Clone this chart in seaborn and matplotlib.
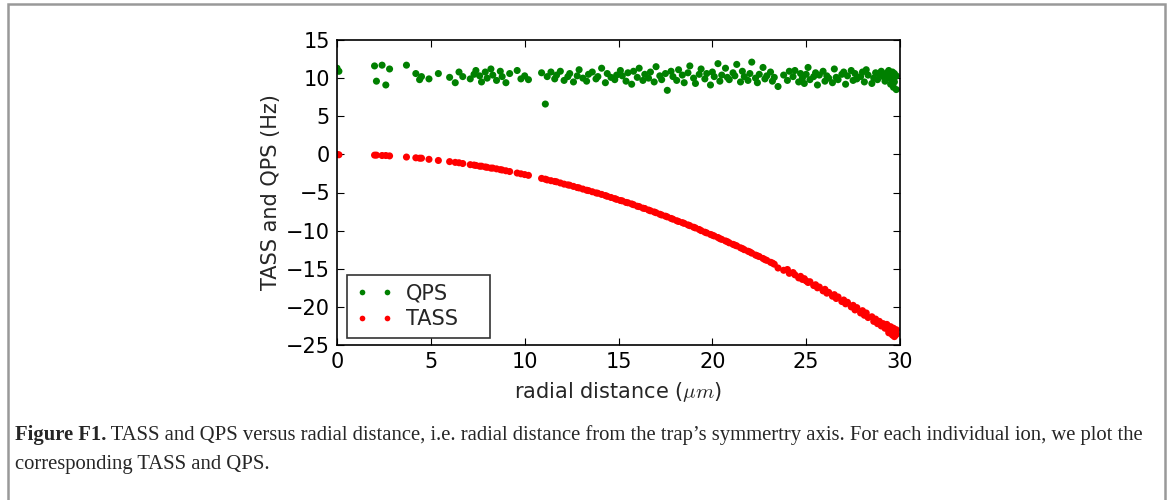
import matplotlib

matplotlib.use("Agg")
import matplotlib.pyplot as plt
import pandas as pd
import seaborn as sns
from matplotlib.patches import Rectangle

# radial position of each ion (um)
RADIAL = [
    0.0, 0.1, 2.0, 2.1, 2.4, 2.6, 2.8, 3.7, 4.2, 4.4,
    4.5, 4.9, 5.4, 6.0, 6.3, 6.5, 6.7, 7.1, 7.3, 7.4,
    7.6, 7.7, 7.9, 8.0, 8.2, 8.3, 8.5, 8.7, 8.8, 9.0,
    9.2, 9.6, 9.8, 10.0, 10.2, 10.9, 11.1, 11.2, 11.4, 11.6,
    11.7, 11.9, 12.1, 12.3, 12.4, 12.6, 12.8, 12.9, 13.1, 13.3,
    13.4, 13.6, 13.8, 13.9, 14.1, 14.3, 14.4, 14.6, 14.8, 14.9,
    15.1, 15.2, 15.4, 15.5, 15.7, 15.8, 16.0, 16.1, 16.3, 16.4,
    16.6, 16.7, 16.9, 17.0, 17.2, 17.3, 17.5, 17.6, 17.8, 17.9,
    18.1, 18.2, 18.4, 18.5, 18.7, 18.8, 19.0, 19.1, 19.3, 19.4,
    19.6, 19.7, 19.9, 20.0, 20.1, 20.3, 20.4, 20.5, 20.7, 20.8,
    20.9, 21.1, 21.2, 21.3, 21.5, 21.6, 21.7, 21.9, 22.0, 22.1,
    22.3, 22.4, 22.5, 22.7, 22.8, 22.9, 23.1, 23.2, 23.3, 23.5,
    23.8, 24.0, 24.1, 24.3, 24.4, 24.6, 24.7, 24.8, 24.9, 25.0,
    25.1, 25.2, 25.4, 25.5, 25.6, 25.7, 25.9, 26.0, 26.1, 26.2,
    26.4, 26.5, 26.6, 26.7, 26.9, 27.0, 27.1, 27.2, 27.4, 27.5,
    27.6, 27.7, 27.9, 28.0, 28.1, 28.2, 28.3, 28.5, 28.6, 28.7,
    28.8, 28.9, 29.0, 29.1, 29.2, 29.3, 29.4, 29.5, 29.6, 29.7,
    29.8, 29.5, 29.6, 29.7, 29.4, 29.8, 29.3, 29.55, 29.65, 29.75,
]

# TASS (Hz) per ion
TASS = [
    0.0, -0.05, -0.1, -0.1, -0.15, -0.15, -0.2, -0.35, -0.45, -0.5,
    -0.5, -0.65, -0.8, -0.95, -1.05, -1.1, -1.2, -1.35, -1.4, -1.45,
    -1.55, -1.55, -1.65, -1.7, -1.8, -1.8, -1.9, -2.0, -2.05, -2.15,
    -2.25, -2.45, -2.55, -2.65, -2.75, -3.15, -3.25, -3.35, -3.45, -3.55,
    -3.6, -3.75, -3.9, -4.0, -4.05, -4.2, -4.35, -4.4, -4.55, -4.7,
    -4.75, -4.9, -5.05, -5.1, -5.25, -5.4, -5.5, -5.65, -5.8, -5.9,
    -6.05, -6.1, -6.3, -6.35, -6.5, -6.6, -6.8, -6.85, -7.05, -7.1,
    -7.3, -7.4, -7.55, -7.65, -7.85, -7.95, -8.1, -8.2, -8.4, -8.5,
    -8.7, -8.8, -8.95, -9.05, -9.25, -9.35, -9.55, -9.65, -9.85, -10.0,
    -10.2, -10.3, -10.5, -10.6, -10.7, -10.9, -11.05, -11.15, -11.35, -11.45,
    -11.6, -11.8, -11.9, -12.0, -12.25, -12.35, -12.5, -12.7, -12.8, -12.95,
    -13.2, -13.3, -13.4, -13.65, -13.8, -13.9, -14.15, -14.25, -14.4, -14.9,
    -15.2, -15.1, -15.6, -15.5, -15.8, -16.2, -16.0, -16.4, -16.3, -16.6,
    -16.8, -16.7, -17.2, -17.1, -17.5, -17.4, -17.9, -17.7, -18.2, -18.1,
    -18.6, -18.4, -18.9, -18.7, -19.3, -19.1, -19.6, -19.4, -20.0, -19.8,
    -20.4, -20.1, -20.8, -20.5, -21.1, -20.8, -21.4, -21.3, -21.9, -21.6,
    -22.2, -21.9, -22.5, -22.2, -22.8, -22.5, -23.1, -22.8, -23.4, -23.1,
    -23.6, -22.6, -23.7, -23.9, -23.4, -23.0, -22.3, -23.5, -22.8, -23.7,
]

# QPS (Hz) per ion
QPS = [
    11.3, 10.9, 11.6, 9.6, 11.7, 9.1, 11.2, 11.7, 10.6, 9.8,
    10.2, 9.9, 10.6, 10.1, 9.4, 10.8, 10.2, 9.9, 10.5, 11.0,
    10.3, 9.5, 10.8, 10.0, 11.2, 10.4, 9.7, 10.9, 10.2, 9.4,
    10.6, 11.0, 9.9, 10.3, 9.8, 10.7, 6.6, 10.2, 10.8, 9.9,
    10.4, 10.9, 9.7, 10.2, 10.6, 9.5, 10.3, 11.1, 10.0, 9.6,
    10.5, 10.8, 9.9, 10.2, 11.3, 9.4, 10.6, 10.1, 9.8, 10.4,
    11.0, 10.3, 9.6, 10.7, 9.2, 10.9, 10.1, 11.3, 9.7, 10.5,
    10.0, 10.8, 9.5, 11.5, 10.3, 9.8, 10.6, 8.4, 10.9, 10.2,
    9.7, 11.1, 10.4, 9.4, 10.7, 11.6, 10.0, 9.3, 10.5, 11.2,
    9.9, 10.6, 9.1, 10.8, 10.2, 11.9, 9.6, 10.4, 11.3, 10.1,
    9.8, 10.7, 10.3, 11.8, 9.5, 10.9, 10.2, 9.7, 10.6, 12.1,
    10.0, 9.4, 10.5, 11.4, 9.9, 10.3, 10.8, 9.6, 10.1, 8.9,
    10.4, 9.7, 10.9, 10.2, 11.0, 9.5, 10.6, 10.0, 9.3, 10.5,
    11.4, 9.8, 10.2, 10.7, 9.1, 10.4, 10.9, 9.6, 10.3, 10.0,
    9.4, 11.2, 10.1, 9.8, 10.5, 10.8, 9.2, 10.3, 11.0, 9.7,
    10.6, 9.9, 10.2, 10.8, 9.5, 11.1, 10.4, 9.3, 10.0, 10.7,
    9.8, 10.5, 10.9, 10.2, 9.6, 10.4, 11.0, 10.1, 9.7, 10.6,
    10.3, 9.2, 10.8, 9.5, 10.0, 8.5, 10.7, 9.9, 8.8, 10.2,
]

SERIES_ORDER = ["QPS", "TASS"]
SERIES_COLORS = {"QPS": "#008000", "TASS": "#ff0000"}
X_TICKS = [0, 5, 10, 15, 20, 25, 30]
Y_TICKS = [-25, -20, -15, -10, -5, 0, 5, 10, 15]

CAPTION_BOLD = "Figure F1."
CAPTION_LINE1 = (
    " TASS and QPS versus radial distance, i.e. radial distance from the trap\u2019s "
    "symmertry axis. For each individual ion, we plot the"
)
CAPTION_LINE2 = "corresponding TASS and QPS."


def build_frame() -> pd.DataFrame:
    qps = pd.DataFrame({"radial": RADIAL, "value": QPS, "series": "QPS"})
    tass = pd.DataFrame({"radial": RADIAL, "value": TASS, "series": "TASS"})
    return pd.concat([qps, tass], ignore_index=True)


def main() -> None:
    sns.set_theme(style="ticks")
    plt.rcParams["font.family"] = ["DejaVu Sans"]
    plt.rcParams["mathtext.fontset"] = "cm"

    df = build_frame()

    fig = plt.figure(figsize=(11.69, 5.0), dpi=100)
    ax = fig.add_axes([0.2883, 0.31, 0.4816, 0.61])

    sns.scatterplot(
        data=df,
        x="radial",
        y="value",
        hue="series",
        hue_order=SERIES_ORDER,
        palette=SERIES_COLORS,
        s=26,
        linewidth=0,
        ax=ax,
    )

    ax.set_xlim(0, 30)
    ax.set_ylim(-25, 15)
    ax.set_xticks(X_TICKS)
    ax.set_yticks(Y_TICKS)
    ax.tick_params(
        direction="in", top=True, right=True, length=5, width=0.8,
        labelsize=15, pad=5, colors="black",
    )
    for spine in ax.spines.values():
        spine.set_visible(True)
        spine.set_linewidth(1.2)
        spine.set_color("black")
    ax.set_xlabel("radial distance ($\\mu m$)", fontsize=15, labelpad=6)
    ax.set_ylabel("TASS and QPS (Hz)", fontsize=15, labelpad=4)

    handles, labels = ax.get_legend_handles_labels()
    leg = ax.legend(
        handles, labels, loc="lower left", mode="expand",
        bbox_to_anchor=(0.0, -0.01, 0.29, 0.5),
        numpoints=2, scatterpoints=2,
        frameon=True, fancybox=False, fontsize=15, borderaxespad=0.5,
        handlelength=1.8, handletextpad=0.6, labelspacing=0.3,
        borderpad=0.4, markerscale=0.8,
    )
    leg.get_frame().set_edgecolor("black")
    leg.get_frame().set_linewidth(1.2)

    # gray frame around the whole figure panel
    fig.patches.append(
        Rectangle(
            (8 / 1169, -0.02), 1157 / 1169, 1.02 - 4.5 / 500,
            transform=fig.transFigure, fill=False, edgecolor="#999999",
            linewidth=1.8, clip_on=False,
        )
    )

    bold = fig.text(
        15 / 1169, 1 - 440 / 500, CAPTION_BOLD, fontsize=14.9,
        family="Liberation Serif", weight="bold", va="baseline",
    )
    fig.canvas.draw()
    bbox = bold.get_window_extent(fig.canvas.get_renderer())
    fig.text(
        bbox.x1 / fig.bbox.width, 1 - 440 / 500, CAPTION_LINE1, fontsize=14.9,
        family="Liberation Serif", va="baseline",
    )
    fig.text(
        15 / 1169, 1 - 469 / 500, CAPTION_LINE2, fontsize=14.9,
        family="Liberation Serif", va="baseline",
    )

    fig.savefig("out.png", dpi=100)
    plt.close(fig)


if __name__ == "__main__":
    main()
